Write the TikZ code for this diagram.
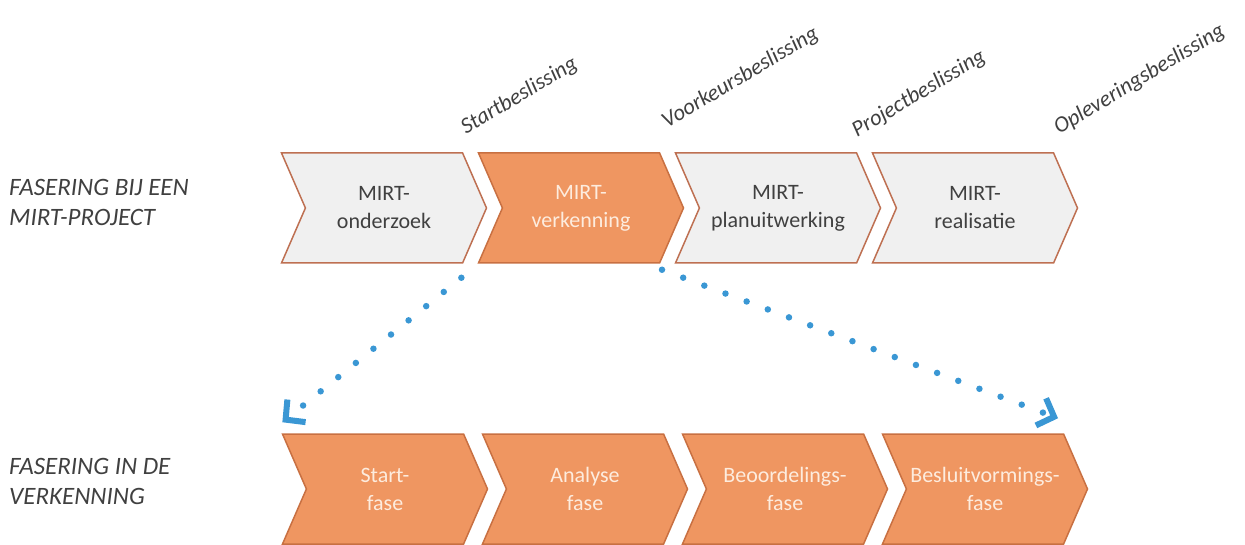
\documentclass[tikz,border=0pt]{standalone}
\usepackage{fontspec}
\setmainfont{Carlito}
\usetikzlibrary{shapes.symbols, arrows.meta}
\definecolor{oranje}{RGB}{239,150,97}
\definecolor{oranjerand}{RGB}{200,112,66}
\definecolor{lichtgrijs}{RGB}{240,240,240}
\definecolor{grijsrand}{RGB}{190,112,82}
\definecolor{tekstgrijs}{RGB}{64,64,64}
\definecolor{tekstlicht}{RGB}{253,236,222}
\definecolor{stippel}{RGB}{58,151,212}
\begin{document}
\begin{tikzpicture}[x=1pt, y=-1pt,
    fase/.style={signal, signal from=west, signal to=east, signal pointer angle=133,
      minimum width=205pt, minimum height=110pt, inner sep=0pt, line width=1.5pt,
      align=center, font=\fontsize{22}{28}\selectfont},
    grijzefase/.style={fase, draw=grijsrand, fill=lichtgrijs, text=tekstgrijs},
    oranjefase/.style={fase, draw=oranjerand, fill=oranje, text=tekstlicht},
    beslissing/.style={anchor=base west, rotate=31, inner sep=0pt, text=tekstgrijs,
      font=\fontsize{22.5}{27}\selectfont\itshape},
    kop/.style={anchor=west, align=left, inner sep=0pt, text=tekstgrijs,
      font=\fontsize{25}{30}\selectfont\itshape},
    stippellijn/.style={stippel, line width=6.5pt, line cap=round, dash pattern=on 0pt off 22.6pt,
      -{Straight Barb[length=14pt, width=29pt, line width=6pt]}}]
  \useasboundingbox (0, 0) rectangle (1245, 545);

  \node [kop] (kopboven) at (9, 202) {FASERING BIJ EEN\\MIRT-PROJECT};
  \node [kop] (koponder) at (9, 481) {FASERING IN DE\\VERKENNING};

  \node [grijzefase] (onderzoek) at (384, 208) {MIRT-\\onderzoek};
  \node [oranjefase] (verkenning) at (581, 208) {MIRT-\\verkenning};
  \node [grijzefase] (planuitwerking) at (778, 208) {MIRT-\\planuitwerking};
  \node [grijzefase] (realisatie) at (975, 208) {MIRT-\\realisatie};

  \node [oranjefase] (startfase) at (385, 489) {Start-\\fase};
  \node [oranjefase] (analysefase) at (585, 489) {Analyse\\fase};
  \node [oranjefase] (beoordelingsfase) at (785, 489) {Beoordelings-\\fase};
  \node [oranjefase] (besluitfase) at (985, 489) {Besluitvormings-\\fase};

  \node [beslissing] (startbesl) at (466, 135) {Startbeslissing};
  \node [beslissing] (voorkeurbesl) at (667, 129) {Voorkeursbeslissing};
  \node [beslissing] (projectbesl) at (857, 138) {Projectbeslissing};
  \node [beslissing] (opleverbesl) at (1059, 135) {Opleveringsbeslissing};

  \draw [stippellijn] ([xshift=-16pt, yshift=-14pt] verkenning.south west)
    -- ([xshift=1pt, yshift=11pt] startfase.north west);
  \draw [stippellijn] ([xshift=81pt, yshift=-6pt] verkenning.south)
    -- ([xshift=73pt, yshift=15pt] besluitfase.north);
\end{tikzpicture}
\end{document}
